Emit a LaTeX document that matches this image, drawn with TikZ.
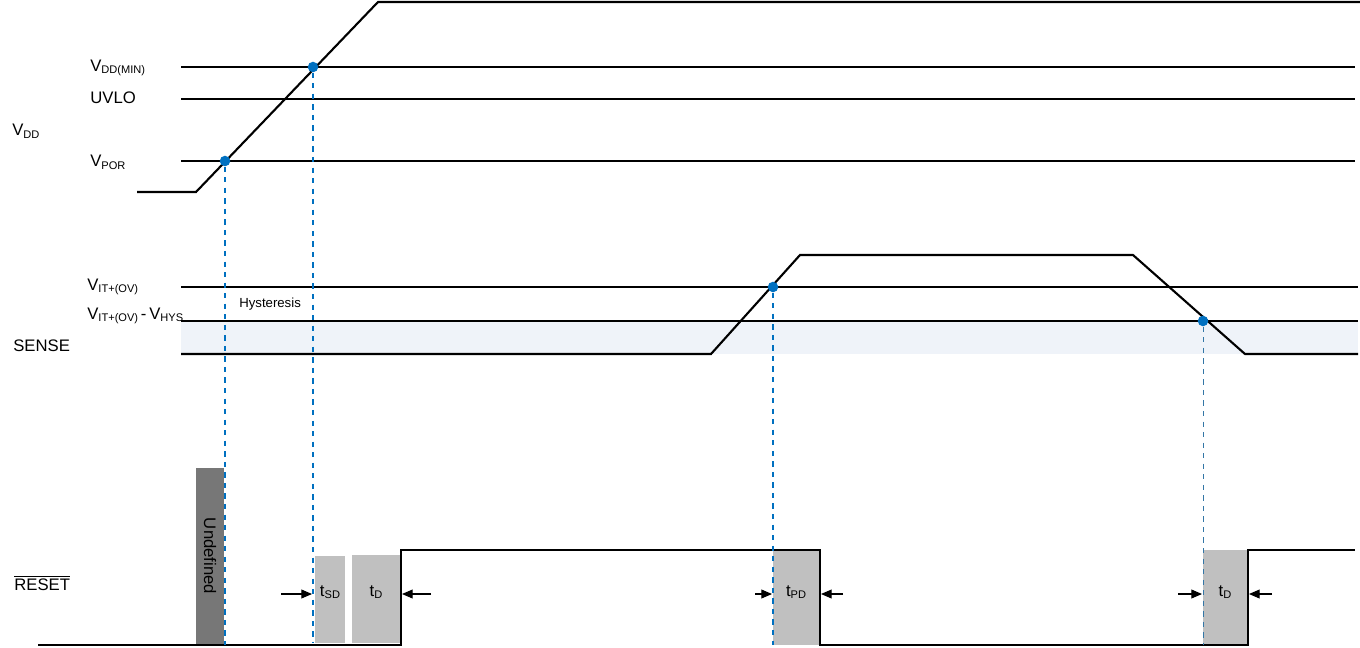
\documentclass[tikz,border=0pt]{standalone}
\usepackage{fontspec}
\setmainfont{Liberation Sans}
\usetikzlibrary{arrows.meta}
\definecolor{dotblue}{HTML}{0070C0}
\definecolor{band}{HTML}{EFF3F9}
\definecolor{boxg}{HTML}{C0C0C0}
\definecolor{darkg}{HTML}{777777}
\tikzset{
 sig/.style={line width=1.2pt,black},
 ref/.style={line width=0.6pt,black},
 guide/.style={dotblue,dashed,line width=0.7pt},
 dot/.style={circle,fill=dotblue,inner sep=0pt,minimum size=6pt},
 lbl/.style={anchor=west,font=\fontsize{9.5}{11}\selectfont,inner sep=0pt},
 arr/.style={-{Triangle[length=6pt,width=5pt]},line width=0.6pt},
 box/.style={fill=boxg,draw=none},
 tl/.style={font=\fontsize{9.5}{11}\selectfont}
}
\newcommand{\sbs}[1]{\raisebox{-0.3ex}{\fontsize{6.3}{7}\selectfont #1}}
\begin{document}
\begin{tikzpicture}[x=0.02cm,y=-0.02cm]
\useasboundingbox (0,0) rectangle (1360,647);
% band
\fill[band] (181,321) rectangle (1358,354);
% ref lines
\draw[ref] (181,67) -- (1355,67);
\draw[ref] (181,99) -- (1355,99);
\draw[ref] (181,161) -- (1355,161);
\draw[ref] (181,287) -- (1358,287);
\draw[ref] (181,321) -- (1358,321);
% VDD signal
\draw[sig] (137,192) -- (196,192) -- (378,2) -- (1360,2);
% SENSE
\draw[sig] (181,354) -- (711,354) -- (800,255) -- (1133,255) -- (1245,354) -- (1358,354);
% reset boxes
\fill[darkg] (196,468) rectangle (224,645);
\node[rotate=-90,tl] (und) at (210,556) {Undefined};
\fill[box] (315,556) rectangle (345,643);
\fill[box] (352,555) rectangle (401,643);
\fill[box] (773,550) rectangle (820,645);
\fill[box] (1203,550) rectangle (1248,645);
\node[tl] (tsd) at (330,592) {t\sbs{SD}};
\node[tl] (td1) at (376,592) {t\sbs{D}};
\node[tl] (tpd) at (796,592) {t\sbs{PD}};
\node[tl] (td2) at (1225,592) {t\sbs{D}};
% RESET signal
\draw[sig] (38,645) -- (401,645) -- (401,550) -- (820,550) -- (820,645) -- (1248,645) -- (1248,550) -- (1355,550);
% dots and guides
\node[dot] (p1) at (225,161) {};
\node[dot] (p2) at (313,67) {};
\node[dot] (p3) at (773,287) {};
\node[dot] (p4) at (1203,321) {};
\coordinate (g1) at (225,645);
\coordinate (g2) at (313,643);
\coordinate (g3) at (773,645);
\coordinate (g4) at (1203,645);
\draw[guide] (p1) -- (g1);
\draw[guide] (p2) -- (g2);
\draw[guide] (p3) -- (g3);
\draw[guide,dotblue!60!gray,line width=0.5pt] (p4) -- (g4);
% arrows
\coordinate (a1) at (281,594); \coordinate (a1e) at (312,594);
\coordinate (a2) at (431,594); \coordinate (a2e) at (402,594);
\coordinate (a3) at (755,594); \coordinate (a3e) at (772,594);
\coordinate (a4) at (843,594); \coordinate (a4e) at (821,594);
\coordinate (a5) at (1178,594); \coordinate (a5e) at (1202,594);
\coordinate (a6) at (1272,594); \coordinate (a6e) at (1249,594);
\draw[arr] (a1) -- (a1e);
\draw[arr] (a2) -- (a2e);
\draw[arr] (a3) -- (a3e);
\draw[arr] (a4) -- (a4e);
\draw[arr] (a5) -- (a5e);
\draw[arr] (a6) -- (a6e);
% labels
\node[lbl] (lvdd) at (12,131) {V\sbs{DD}};
\node[lbl] (lmin) at (90,68) {V\sbs{DD(MIN)}};
\node[lbl] (luv) at (90,98) {UVLO};
\node[lbl] (lpor) at (90,162) {V\sbs{POR}};
\node[lbl] (lit) at (87,287) {V\sbs{IT+(OV)}};
\node[lbl] (lhy) at (87,316) {V\sbs{IT+(OV)}\,-\,V\sbs{HYS}};
\node[lbl] (lsen) at (13,346) {SENSE};
\node[lbl,font=\fontsize{7.5}{9}\selectfont] (lhys) at (239,304) {Hysteresis};
\node[lbl] (lrst) at (14,583) {$\overline{\hbox{RESET}}$};
\end{tikzpicture}
\end{document}
